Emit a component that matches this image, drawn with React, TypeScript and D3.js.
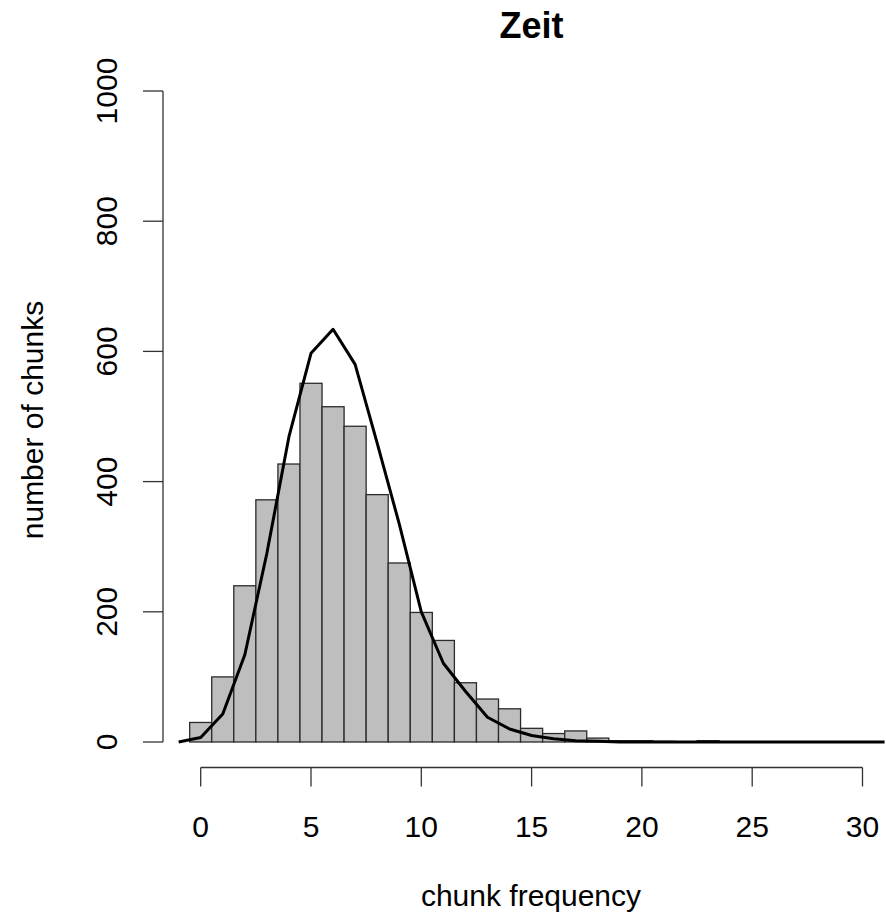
import * as d3 from 'd3';

// histogram counts, one bin per integer frequency (bins centred on 0..30)
const binCenters = d3.range(0, 31);
const counts = [30, 100, 240, 372, 427, 551, 515, 485, 380, 275, 199, 156, 91, 66, 51, 21, 13, 17, 6, 2, 2, 1, 0, 2, 0, 0, 0, 0, 0, 0, 0];

// fitted curve, evaluated at integer points -1..31
const curveX = d3.range(-1, 32);
const curveY = [0, 7, 43, 134, 290, 469, 597, 634, 580, 459, 335, 200, 121, 78, 38, 20, 10, 5, 2, 1, 0, 0, 0, 0, 0, 0, 0, 0, 0, 0, 0, 0, 0];

const xTicks = [0, 5, 10, 15, 20, 25, 30];
const yTicks = [0, 200, 400, 600, 800, 1000];

const W = 886;
const H = 924;
const font = '"Liberation Sans", Arial, Helvetica, sans-serif';

export default function App() {
  const x = d3.scaleLinear().domain([0, 30]).range([200.7, 862.5]);
  const y = d3.scaleLinear().domain([0, 1000]).range([742, 91]);

  const line = d3.line<number>()
    .x((_, i) => x(curveX[i]))
    .y(d => y(d));

  const axisY = 767.5;
  const axisX = 163;

  return (
    <svg width={W} height={H} style={{ position: 'absolute', left: 0, top: 0, background: '#fff' }}>
      <text x={531.5} y={38} textAnchor="middle" fontFamily={font} fontWeight="bold" fontSize={36}>Zeit</text>

      {/* bars */}
      <g>
        {binCenters.map((c, i) => (
          <rect
            key={c}
            x={x(c - 0.5)}
            y={y(counts[i])}
            width={x(c + 0.5) - x(c - 0.5)}
            height={y(0) - y(counts[i])}
            fill="#bebebe"
            stroke="#2b2b2b"
            strokeWidth={1.3}
          />
        ))}
      </g>

      {/* curve */}
      <path d={line(curveY) || ''} fill="none" stroke="#000" strokeWidth={3} strokeLinejoin="round" />

      {/* x axis */}
      <g stroke="#333" strokeWidth={1.3} fill="none">
        <line x1={x(0)} x2={x(30)} y1={axisY} y2={axisY} />
        {xTicks.map(t => (
          <line key={t} x1={x(t)} x2={x(t)} y1={axisY} y2={axisY + 19} />
        ))}
      </g>
      {xTicks.map(t => (
        <text key={t} x={x(t)} y={836.5} textAnchor="middle" fontFamily={font} fontSize={30}>{t}</text>
      ))}
      <text x={531} y={906} textAnchor="middle" fontFamily={font} fontSize={30}>chunk frequency</text>

      {/* y axis */}
      <g stroke="#333" strokeWidth={1.3} fill="none">
        <line x1={axisX} x2={axisX} y1={y(0)} y2={y(1000)} />
        {yTicks.map(t => (
          <line key={t} x1={axisX - 20} x2={axisX} y1={y(t)} y2={y(t)} />
        ))}
      </g>
      {yTicks.map(t => (
        <text key={t} transform={`translate(117,${y(t)}) rotate(-90)`} textAnchor="middle" fontFamily={font} fontSize={30}>{t}</text>
      ))}
      <text transform={`translate(43,420) rotate(-90)`} textAnchor="middle" fontFamily={font} fontSize={30}>number of chunks</text>
    </svg>
  );
}
